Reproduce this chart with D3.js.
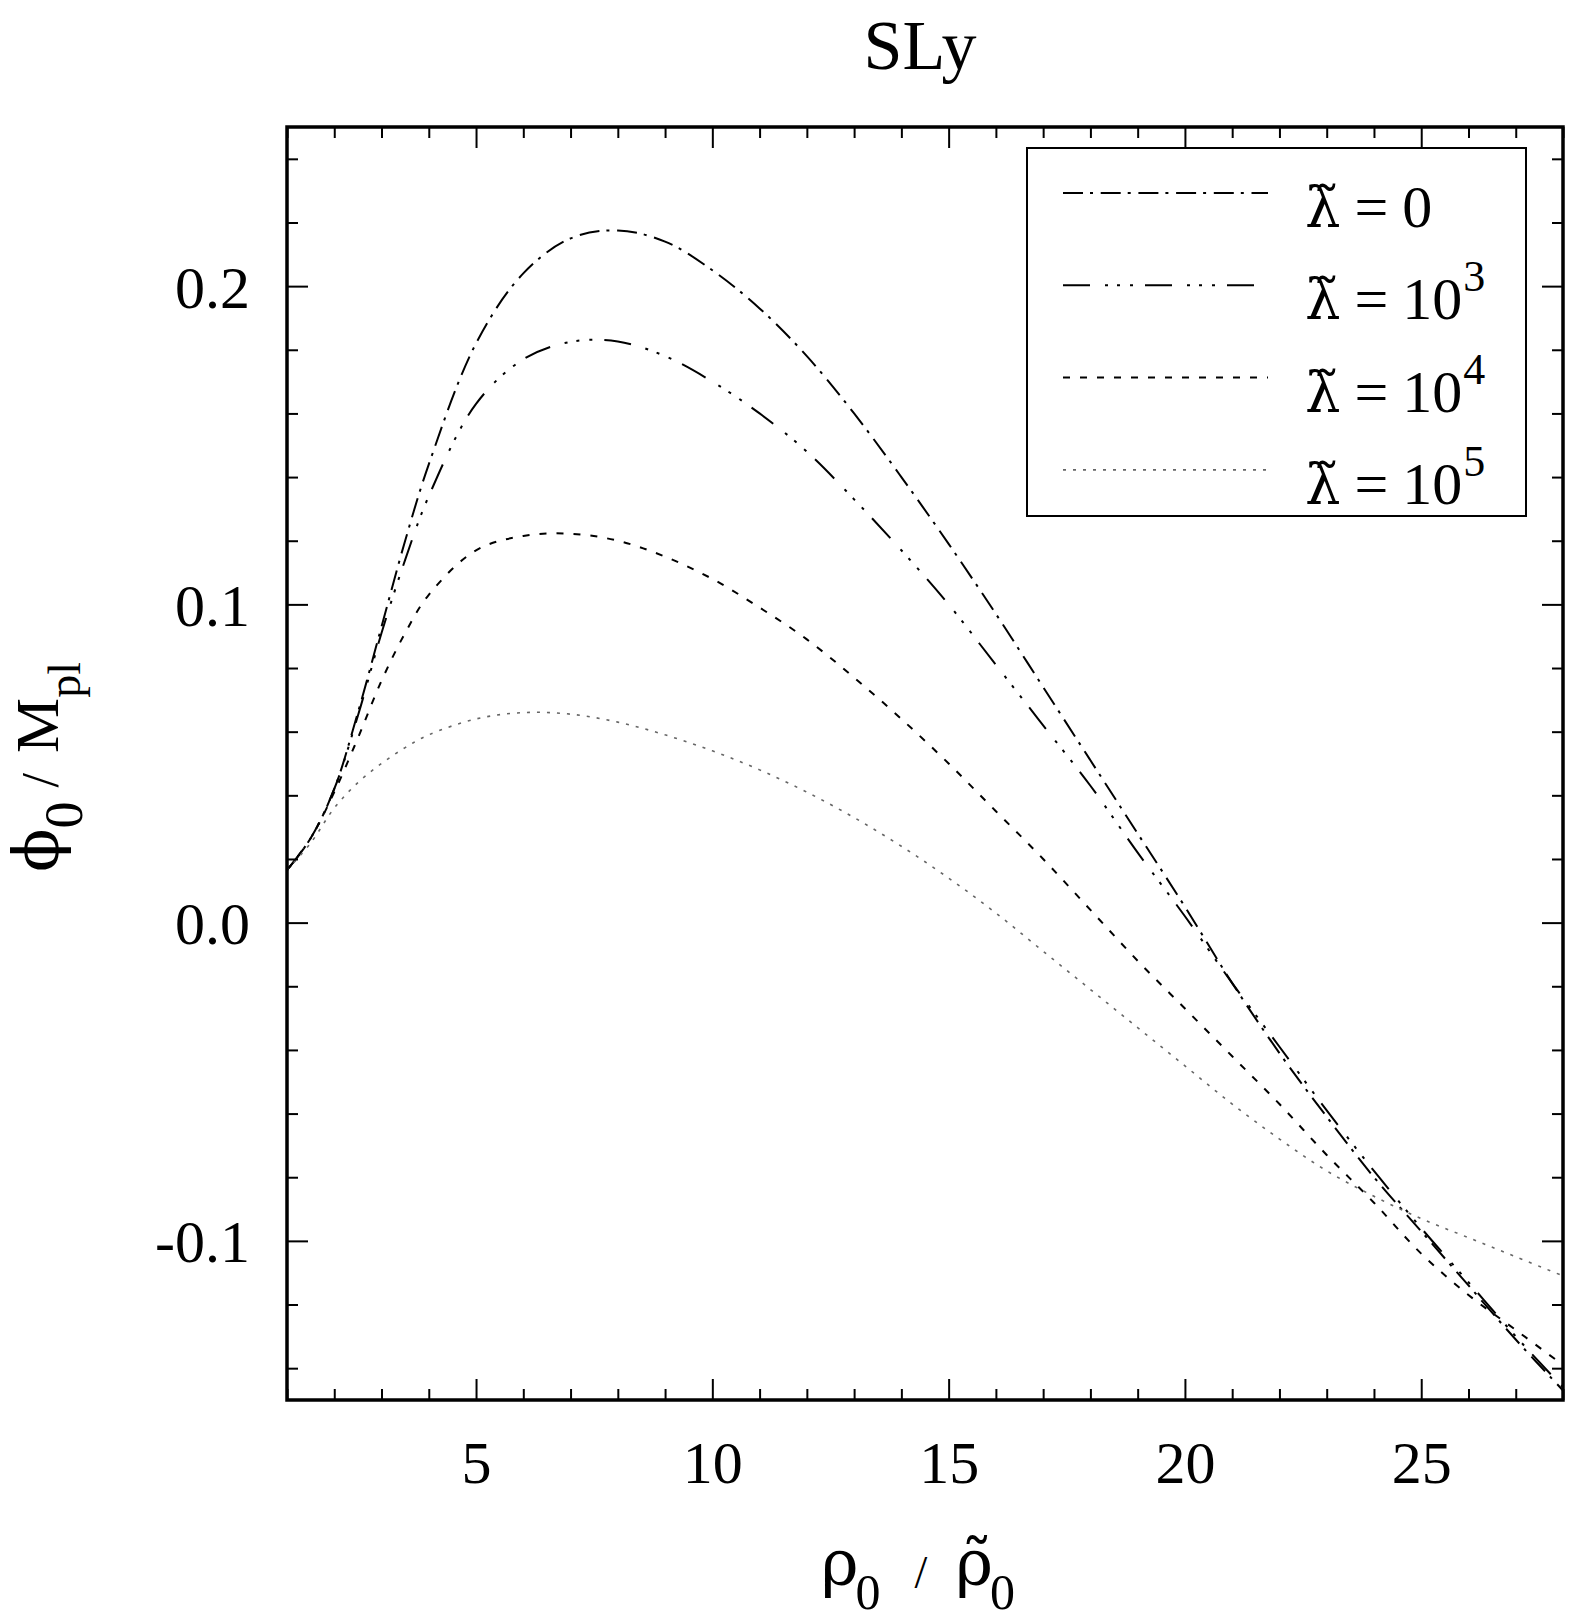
<!DOCTYPE html>
<html lang="en">
<head>
<meta charset="UTF-8" />
<script src="https://d3js.org/d3.v7.min.js"></script>
<title>SLy</title>
<style>
    body { margin: 0; overflow: hidden; background: white; }
    text { font-family: "Liberation Serif", "Times New Roman", serif; fill: black; }
    .tick line { stroke: black; stroke-width: 2; }
    .tick text { font-size: 60px; font-family: "Liberation Serif", serif; }
</style>
</head>
<body>
<script>
    // rho_0 / rho~_0 grid (x) and phi_0 / M_pl for each lambda~
    const rho = [1, 1.5, 2, 2.5, 3, 3.5, 4, 5, 6, 7, 8, 9, 10, 11, 12, 13, 14, 15, 16, 17, 18, 19, 20, 21, 22, 23, 24, 25, 26, 27, 28];
    const phiL0 = [0.0165, 0.0265, 0.042, 0.066, 0.093, 0.120, 0.144, 0.182, 0.204, 0.215, 0.2175, 0.214, 0.205, 0.193, 0.178, 0.160, 0.140, 0.119, 0.097, 0.074, 0.051, 0.028, 0.005, -0.019, -0.041, -0.061, -0.080, -0.097, -0.114, -0.131, -0.147];
    const phiL3 = [0.0165, 0.0265, 0.042, 0.065, 0.091, 0.114, 0.134, 0.163, 0.177, 0.1825, 0.1826, 0.178, 0.170, 0.160, 0.148, 0.133, 0.117, 0.100, 0.081, 0.062, 0.043, 0.022, 0.002, -0.019, -0.039, -0.059, -0.078, -0.096, -0.113, -0.130, -0.146];
    const phiL4 = [0.0165, 0.0265, 0.041, 0.058, 0.076, 0.091, 0.103, 0.117, 0.1215, 0.1222, 0.120, 0.115, 0.108, 0.099, 0.089, 0.077, 0.064, 0.050, 0.035, 0.020, 0.004, -0.012, -0.027, -0.042, -0.057, -0.073, -0.088, -0.104, -0.117, -0.128, -0.139];
    const phiL5 = [0.0165, 0.025, 0.036, 0.044, 0.050, 0.055, 0.059, 0.064, 0.066, 0.0655, 0.063, 0.059, 0.054, 0.048, 0.041, 0.033, 0.024, 0.014, 0.003, -0.009, -0.021, -0.033, -0.045, -0.057, -0.068, -0.078, -0.086, -0.093, -0.099, -0.105, -0.111];

    const legendExp = ["0", "3", "4", "5"];   // lambda~ = 0, 10^3, 10^4, 10^5
    const xMajor = [5, 10, 15, 20, 25];
    const yMajor = [-0.1, 0.0, 0.1, 0.2];
    const yLabels = ["-0.1", "0.0", "0.1", "0.2"];

    const width = 1578, height = 1621;
    const margin = { top: 127, right: 15, bottom: 221, left: 287 };
    const LIB = '"Liberation Serif", serif';
    const DJV = '"DejaVu Serif", serif';

    const svg = d3.select("body").append("svg")
        .attr("width", width)
        .attr("height", height);

    const x = d3.scaleLinear().domain([1, 28]).range([margin.left, width - margin.right]);
    const y = d3.scaleLinear().domain([-0.15, 0.25]).range([height - margin.bottom, margin.top]);

    const series = [
        { values: phiL0, dash: "20 7 3 7.7", color: "#000", w: 2 },
        { values: phiL3, dash: "27 15 3 9 3 10 3 12", color: "#000", w: 2 },
        { values: phiL4, dash: "7 10", color: "#000", w: 2 },
        { values: phiL5, dash: "3 7", color: "#666", w: 1.6 }
    ];

    // clip to the frame
    svg.append("clipPath").attr("id", "clip")
        .append("rect")
        .attr("x", x(1)).attr("y", y(0.25))
        .attr("width", x(28) - x(1)).attr("height", y(-0.15) - y(0.25));

    const line = d3.line()
        .x((d, i) => x(rho[i]))
        .y(d => y(d))
        .curve(d3.curveCatmullRom);

    svg.append("g").attr("clip-path", "url(#clip)")
        .selectAll("path")
        .data(series)
        .join("path")
        .attr("d", d => line(d.values))
        .attr("fill", "none")
        .attr("stroke", d => d.color)
        .attr("stroke-width", d => d.w)
        .attr("stroke-dasharray", d => d.dash);

    // ticks, all pointing inward
    const xMinor = d3.range(1, 29).filter(v => v % 5 !== 0);
    const yMinor = d3.range(-14, 26, 2).map(v => v / 100).filter(v => Math.abs(Math.round(v * 100) % 10) !== 0);
    const noLabel = () => "";

    const addAxis = (axis, tf) => {
        const g = svg.append("g").attr("transform", tf).call(axis);
        g.select(".domain").remove();
        return g;
    };

    addAxis(d3.axisBottom(x).tickValues(xMinor).tickSizeInner(-11).tickSizeOuter(0).tickFormat(noLabel), `translate(0,${y(-0.15)})`);
    addAxis(d3.axisBottom(x).tickValues(xMajor).tickSizeInner(-21).tickSizeOuter(0).tickPadding(40).tickFormat(d3.format("d")), `translate(0,${y(-0.15)})`);
    addAxis(d3.axisTop(x).tickValues(xMinor).tickSizeInner(-11).tickSizeOuter(0).tickFormat(noLabel), `translate(0,${y(0.25)})`);
    addAxis(d3.axisTop(x).tickValues(xMajor).tickSizeInner(-21).tickSizeOuter(0).tickFormat(noLabel), `translate(0,${y(0.25)})`);

    addAxis(d3.axisLeft(y).tickValues(yMinor).tickSizeInner(-11).tickSizeOuter(0).tickFormat(noLabel), `translate(${x(1)},0)`);
    addAxis(d3.axisLeft(y).tickValues(yMajor).tickSizeInner(-21).tickSizeOuter(0).tickPadding(37).tickFormat((d, i) => yLabels[i]), `translate(${x(1)},0)`)
        .selectAll("text").attr("dy", "0.35em");
    addAxis(d3.axisRight(y).tickValues(yMinor).tickSizeInner(-11).tickSizeOuter(0).tickFormat(noLabel), `translate(${x(28)},0)`);
    addAxis(d3.axisRight(y).tickValues(yMajor).tickSizeInner(-21).tickSizeOuter(0).tickFormat(noLabel), `translate(${x(28)},0)`);

    // frame
    svg.append("rect")
        .attr("x", x(1)).attr("y", y(0.25))
        .attr("width", x(28) - x(1)).attr("height", y(-0.15) - y(0.25))
        .attr("fill", "none").attr("stroke", "black").attr("stroke-width", 3.5);

    // lays out pieces of text one after another (sub/superscripts via dy)
    const richText = (g, x0, y0, parts, centered) => {
        let cx = 0;
        const grp = g.append("g");
        parts.forEach(p => {
            cx += p.dx || 0;
            const t = grp.append("text")
                .attr("x", cx).attr("y", p.dy || 0)
                .style("font-family", p.font || LIB)
                .style("font-size", p.size + "px")
                .text(p.t);
            cx += t.node().getComputedTextLength();
        });
        const shift = centered ? -cx / 2 : 0;
        grp.attr("transform", `translate(${x0 + shift},${y0})`);
        return grp;
    };

    // title
    svg.append("text")
        .attr("x", 920).attr("y", 69)
        .attr("text-anchor", "middle")
        .style("font-size", "70px")
        .text("SLy");

    // x label  (U+0303 = combining tilde)
    richText(svg, 918, 1585, [
        { t: "ρ", size: 64, font: DJV },
        { t: "0", size: 50, dy: 24, dx: -3 },
        { t: "/", size: 46, dx: 34, dy: 3 },
        { t: "ρ\u0303", size: 64, font: DJV, dx: 28 },
        { t: "0", size: 50, dy: 24, dx: -3 }
    ], true);

    // y label
    const yl = svg.append("g").attr("transform", "translate(58,767) rotate(-90)");
    richText(yl, 0, 0, [
        { t: "ϕ", size: 64, font: DJV },
        { t: "0", size: 54, dy: 24 },
        { t: "/", size: 52, dx: 14 },
        { t: "M", size: 62, dx: 20 },
        { t: "pl", size: 46, dy: 22 }
    ], true);

    // legend
    const lg = svg.append("g");
    lg.append("rect")
        .attr("x", 1027).attr("y", 148).attr("width", 499).attr("height", 368)
        .attr("fill", "white").attr("stroke", "black").attr("stroke-width", 2);

    series.forEach((s, i) => {
        const ly = 193 + i * 92.3;
        lg.append("line")
            .attr("x1", 1063).attr("x2", 1268)
            .attr("y1", ly).attr("y2", ly)
            .attr("stroke", s.color).attr("stroke-width", s.w)
            .attr("stroke-dasharray", s.dash);
        const parts = [
            { t: "λ\u0303", size: 56, font: DJV },
            { t: "=", size: 60, dx: 14 },
            { t: legendExp[i] === "0" ? "0" : "10", size: 60, dx: 14 }
        ];
        if (legendExp[i] !== "0") {
            parts.push({ t: legendExp[i], size: 44, dy: -28, dx: 1 });
        }
        richText(lg, 1305, ly + 34, parts, false);
    });
</script>
</body>
</html>
